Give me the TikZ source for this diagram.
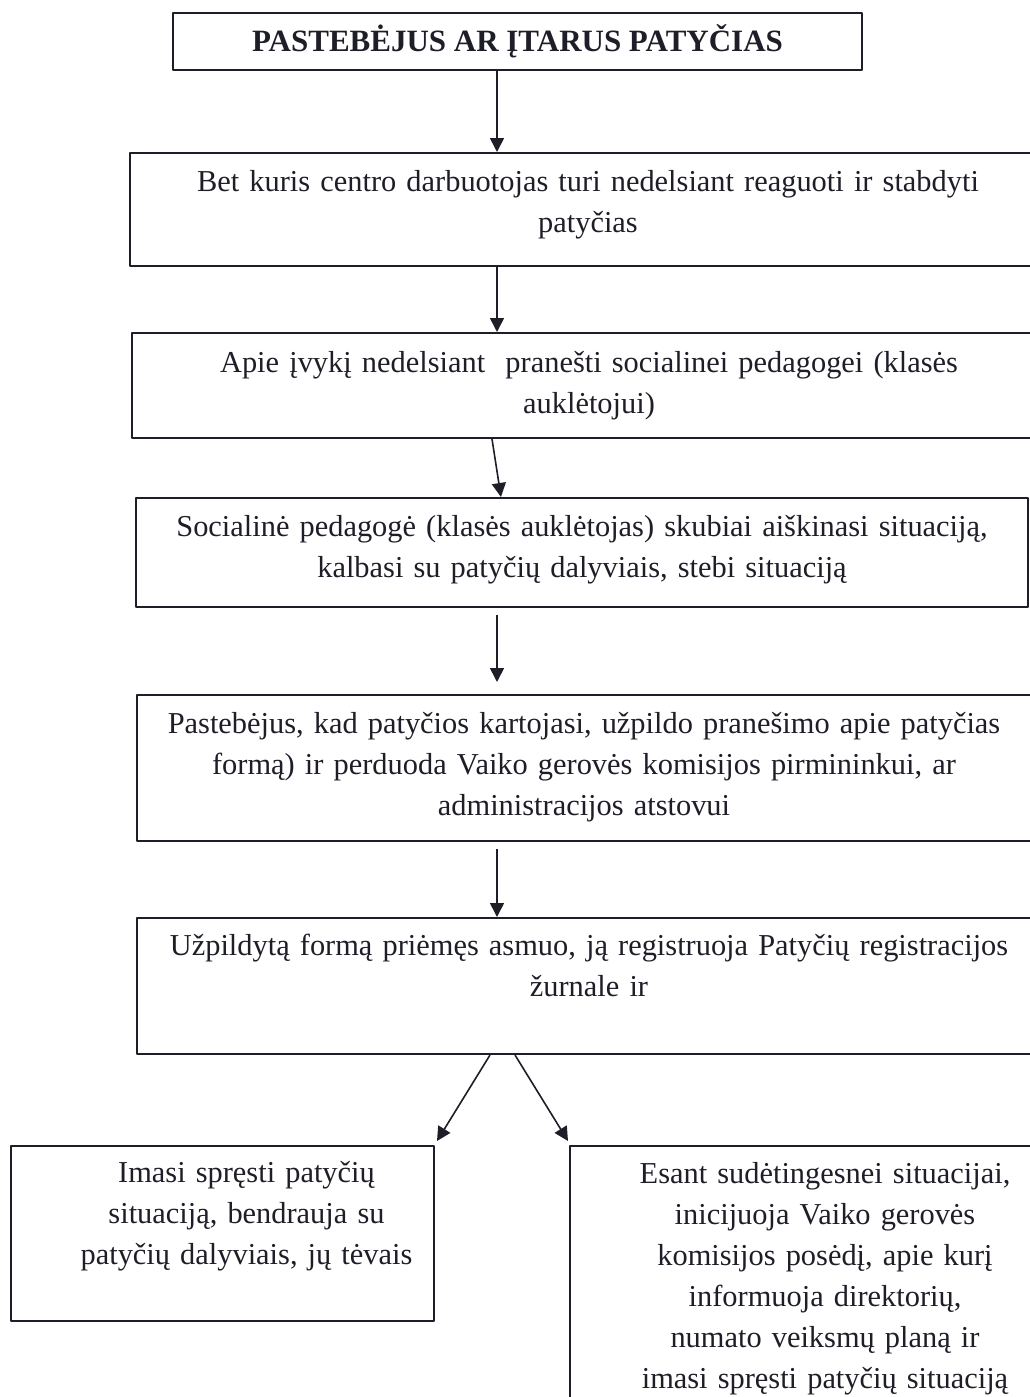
\documentclass[tikz,border=0pt]{standalone}
\usepackage{fontspec}
\setmainfont{Liberation Serif}
\usetikzlibrary{arrows.meta}
\definecolor{ink}{RGB}{30,30,40}
\begin{document}
\begin{tikzpicture}[x=.5pt, y=-.5pt, font={\fontsize{15.2}{20.5}\selectfont}, line join=round, >={Triangle[length=7pt,width=7pt]},
	box/.style={draw=ink, line width=1pt, anchor=north west, inner sep=0pt},
	txt/.style={anchor=base, align=center, text width=470pt, inner sep=0pt, text=ink},
	arr/.style={->, draw=ink, fill=ink, line width=.8pt}]
	\useasboundingbox (0,0) rectangle (1029,1397);
	\path (497,0) coordinate (s) (492,0) coordinate (sa) (501,0) coordinate (sb) (490,0) coordinate (l) (515,0) coordinate (r);
	% boxes
	\node[box, minimum width=344.5pt, minimum height=28.5pt, text=ink, font={\fontsize{15.5}{20.5}\selectfont}] (b1) at (172,12) {\textbf{PASTEBĖJUS AR ĮTARUS PATYČIAS}};
	\foreach \n/\x/\y/\w/\h in {b2/129/152/458/56.5, b3/131/332/457/52.5, b4/135/497/446/54.5, b5/136/694/447/73, b6/136/917/452/68, b7/10/1145/211.5/87.5, b8/569/1145/255/150}
		\node[box, minimum width=\w pt, minimum height=\h pt] (\n) at (\x,\y) {};
	% texts
	\node[txt] (t2) at ([yshift=-19.5pt]b2.north) {Bet kuris centro darbuotojas turi nedelsiant reaguoti ir stabdyti\\patyčias};
	\node[txt] (t3) at ([yshift=-20pt]b3.north) {Apie įvykį nedelsiant\ \ pranešti socialinei pedagogei (klasės\\auklėtojui)};
	\node[txt] (t4) at ([yshift=-19.5pt]b4.north) {Socialinė pedagogė (klasės auklėtojas) skubiai aiškinasi situaciją,\\kalbasi su patyčių dalyviais, stebi situaciją};
	\node[txt] (t5) at ([yshift=-19.5pt]b5.north) {Pastebėjus, kad patyčios kartojasi, užpildo pranešimo apie patyčias\\formą) ir perduoda Vaiko gerovės komisijos pirmininkui, ar\\administracijos atstovui};
	\node[txt] (t6) at ([yshift=-19pt]b6.north) {Užpildytą formą priėmęs asmuo, ją registruoja Patyčių registracijos\\žurnale ir};
	\node[txt] (t7) at ([xshift=12pt, yshift=-18.5pt]b7.north) {Imasi spręsti patyčių\\situaciją, bendrauja su\\patyčių dalyviais, jų tėvais};
	\node[txt] (t8) at ([yshift=-19pt]b8.north) {Esant sudėtingesnei situacijai,\\inicijuoja Vaiko gerovės\\komisijos posėdį, apie kurį\\informuoja direktorių,\\numato veiksmų planą ir\\imasi spręsti patyčių situaciją};
	% arrows
	\draw[arr] (b1.south -| s) -- (b2.north -| s);
	\draw[arr] (b2.south -| s) -- (b3.north -| s);
	\draw[arr] (b3.south -| sa) -- (b4.north -| sb);
	\draw[arr, shorten <=3.5pt, shorten >=6pt] (b4.south -| s) -- (b5.north -| s);
	\draw[arr, shorten <=3.5pt] (b5.south -| s) -- (b6.north -| s);
	\draw[arr] (b6.south -| l) -- ([xshift=1pt, yshift=2pt]b7.north east);
	\draw[arr] (b6.south -| r) -- ([xshift=-.5pt, yshift=2pt]b8.north west);
\end{tikzpicture}
\end{document}
